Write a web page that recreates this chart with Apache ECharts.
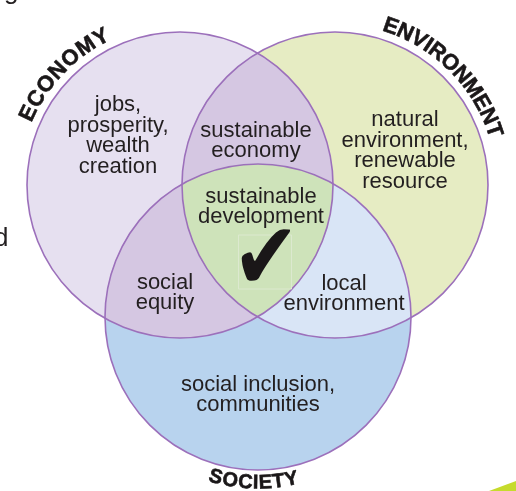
<!DOCTYPE html>
<html><head><meta charset="utf-8">
<script src="https://cdn.jsdelivr.net/npm/echarts@6/dist/echarts.min.js"></script>
<style>html,body{margin:0;padding:0;background:#fff;overflow:hidden}#c{width:516px;height:491px}</style>
</head><body><div id="c"></div>
<script>
// ---- data ----
const setNames = ['ECONOMY', 'ENVIRONMENT', 'SOCIETY'];
const centerX = [180, 335, 258];
const centerY = [185, 185, 317];
const radius = [153, 153, 153];

const regionSets = [[0], [1], [2], [0, 1], [0, 2], [1, 2], [0, 1, 2]];
const regionTexts = [
  'jobs,\nprosperity,\nwealth\ncreation',
  'natural\nenvironment,\nrenewable\nresource',
  'social inclusion,\ncommunities',
  'sustainable\neconomy',
  'social\nequity',
  'local\nenvironment',
  'sustainable\ndevelopment'
];

// ---- layout / style (not data) ----
const labelAnchorX = [118, 405, 258, 256, 165, 344, 261];
const labelAnchorY = [136, 151, 395, 141, 293, 294, 207];
const regionColors = ['#e6e0f0', '#e6ecc3', '#b8d3ee', '#d5c7e2', '#d5c7e2', '#d9e5f6', '#cee3ba'];
const outlineColor = '#9c70bb';
const titleArc = [
  {mid: -136.4, span: 36.6, r: 167, size: 22, outward: true},
  {mid: -44.8, span: 51.6, r: 167.5, size: 22, outward: true},
  {mid: 91.6, span: 26.4, r: 166, size: 20, outward: false}
];

const measureCtx = document.createElement('canvas').getContext('2d');

function circlesPx(api, sets) {
  return sets.map(i => {
    const c = api.coord([centerX[i], centerY[i]]);
    const r = Math.abs(api.size([radius[i], 0])[0]);
    return {x: c[0], y: c[1], r: r};
  });
}

function intersectionPolygon(circles) {
  const pts = [];
  const N = 1440;
  circles.forEach((c, k) => {
    for (let t = 0; t < N; t++) {
      const a = t / N * 2 * Math.PI;
      const px = c.x + c.r * Math.cos(a), py = c.y + c.r * Math.sin(a);
      let ok = true;
      circles.forEach((d, m) => {
        if (m !== k && Math.hypot(px - d.x, py - d.y) > d.r + 0.01) ok = false;
      });
      if (ok) pts.push([px, py]);
    }
  });
  let mx = 0, my = 0;
  pts.forEach(p => { mx += p[0]; my += p[1]; });
  mx /= pts.length; my /= pts.length;
  pts.sort((p, q) => Math.atan2(p[1] - my, p[0] - mx) - Math.atan2(q[1] - my, q[0] - mx));
  return pts;
}

function renderRegion(params, api) {
  const idx = api.value(2);
  const sets = regionSets[idx];
  const circles = circlesPx(api, sets);
  if (sets.length === 1) {
    return {type: 'circle', shape: {cx: circles[0].x, cy: circles[0].y, r: circles[0].r},
      style: {fill: regionColors[idx], stroke: null}};
  }
  return {type: 'polygon', shape: {points: intersectionPolygon(circles)},
    style: {fill: regionColors[idx], stroke: regionColors[idx], lineWidth: 0.5}};
}

function renderOutline(params, api) {
  const i = api.value(2);
  const c = circlesPx(api, [i])[0];
  return {type: 'circle', shape: {cx: c.x, cy: c.y, r: c.r},
    style: {fill: null, stroke: outlineColor, lineWidth: 1.6}};
}

function renderTitle(params, api) {
  const i = api.value(2);
  const c = circlesPx(api, [i])[0];
  const arc = titleArc[i];
  const text = setNames[i];
  const font = 'bold ' + arc.size + 'px "Liberation Sans", Arial, sans-serif';
  measureCtx.font = font;
  const widths = text.split('').map(ch => measureCtx.measureText(ch).width);
  let centreSum = 0;
  for (let k = 0; k < widths.length - 1; k++) centreSum += (widths[k] + widths[k + 1]) / 2;
  const spanPx = arc.span * Math.PI / 180 * arc.r;
  const gap = (spanPx - centreSum) / (widths.length - 1);
  const children = [];
  let cum = 0;
  const start = arc.mid * Math.PI / 180 + (arc.outward ? -1 : 1) * spanPx / 2 / arc.r;
  text.split('').forEach((ch, k) => {
    const a = start + (arc.outward ? 1 : -1) * cum / arc.r;
    const x = c.x + arc.r * Math.cos(a), y = c.y + arc.r * Math.sin(a);
    const rot = arc.outward ? -(a + Math.PI / 2) : -(a - Math.PI / 2);
    children.push({type: 'text', x: x, y: y, rotation: rot,
      style: {text: ch, font: font, fill: '#1a1718', align: 'center', verticalAlign: 'middle',
        stroke: '#1a1718', lineWidth: 0.6}});
    if (k < widths.length - 1) cum += (widths[k] + widths[k + 1]) / 2 + gap;
  });
  return {type: 'group', children: children};
}

function renderLabel(params, api) {
  const i = api.value(2);
  const p = api.coord([labelAnchorX[i], labelAnchorY[i]]);
  return {type: 'text', x: p[0], y: p[1],
    style: {text: regionTexts[i], font: '22px "Liberation Sans", Arial, sans-serif', fill: '#231f20',
      align: 'center', verticalAlign: 'middle', lineHeight: 20.7}};
}

function renderCheck(params, api) {
  const p = api.coord([api.value(0), api.value(1)]);
  return {type: 'group', children: [
    {type: 'rect', shape: {x: p[0] - 26.5, y: p[1] - 27, width: 53, height: 54},
      style: {fill: null, stroke: '#dce9cf', lineWidth: 1}},
    {type: 'text', x: p[0] + 1, y: p[1] + 2, scaleX: 1.05, scaleY: 1.25,
      style: {text: '\u2714', font: '76px "DejaVu Sans"', fill: '#1a1718', align: 'center', verticalAlign: 'middle'}}
  ]};
}

const chart = echarts.init(document.getElementById('c'), null, {renderer: 'canvas'});
const regionData = regionSets.map((s, i) => [0, 0, i]);
const circleData = setNames.map((n, i) => [centerX[i], centerY[i], i]);
chart.setOption({
  animation: false,
  backgroundColor: '#ffffff',
  grid: {left: 0, right: 0, top: 0, bottom: 0},
  xAxis: {type: 'value', min: 0, max: 516, show: false},
  yAxis: {type: 'value', min: 0, max: 491, inverse: true, show: false},
  graphic: [
    {type: 'text', left: 4, top: -21, style: {text: 'g', font: '26px "Liberation Sans", Arial', fill: '#231f20'}},
    {type: 'text', left: -6, top: 226, style: {text: 'd', font: '26px "Liberation Sans", Arial', fill: '#231f20'}},
    {type: 'polygon', shape: {points: [[489, 491], [516, 481], [516, 491]]}, style: {fill: '#c6db2c'}}
  ],
  series: [
    {type: 'custom', name: 'regions', renderItem: renderRegion, data: regionData, clip: false, silent: true},
    {type: 'custom', name: 'outlines', renderItem: renderOutline, data: circleData, clip: false, silent: true},
    {type: 'custom', name: 'titles', renderItem: renderTitle, data: circleData, clip: false, silent: true},
    {type: 'custom', name: 'labels', renderItem: renderLabel, data: regionData, clip: false, silent: true},
    {type: 'custom', name: 'check', renderItem: renderCheck, data: [[265, 262, 0]], clip: false, silent: true}
  ]
});
</script>
</body></html>
